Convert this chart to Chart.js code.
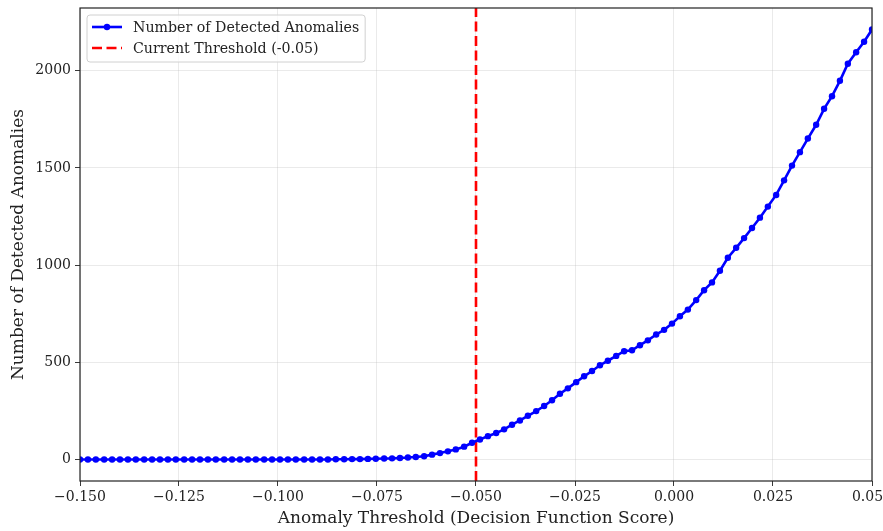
<!DOCTYPE html>
<html>
<head>
<meta charset="utf-8">
<script src="https://cdn.jsdelivr.net/npm/chart.js@4.4.1/dist/chart.umd.min.js"></script>
<style>
  html, body { margin: 0; padding: 0; background: #fff; }
  #wrap { width: 883px; height: 531px; position: relative; }
</style>
</head>
<body>
<div id="wrap"><canvas id="chart-anomalies"></canvas></div>
<script>
// threshold values (x) and detected counts (y)
const thresholds = [
  -0.1500, -0.1480, -0.1460, -0.1439, -0.1419, -0.1399, -0.1379, -0.1359, -0.1338, -0.1318,
  -0.1298, -0.1278, -0.1258, -0.1237, -0.1217, -0.1197, -0.1177, -0.1157, -0.1136, -0.1116,
  -0.1096, -0.1076, -0.1056, -0.1035, -0.1015, -0.0995, -0.0975, -0.0955, -0.0934, -0.0914,
  -0.0894, -0.0874, -0.0854, -0.0833, -0.0813, -0.0793, -0.0773, -0.0753, -0.0732, -0.0712,
  -0.0692, -0.0672, -0.0652, -0.0631, -0.0611, -0.0591, -0.0571, -0.0551, -0.0530, -0.0510,
  -0.0490, -0.0470, -0.0449, -0.0429, -0.0409, -0.0389, -0.0369, -0.0348, -0.0328, -0.0308,
  -0.0288, -0.0268, -0.0247, -0.0227, -0.0207, -0.0187, -0.0167, -0.0146, -0.0126, -0.0106,
  -0.0086, -0.0066, -0.0045, -0.0025, -0.0005, 0.0015, 0.0035, 0.0056, 0.0076, 0.0096,
  0.0116, 0.0136, 0.0157, 0.0177, 0.0197, 0.0217, 0.0237, 0.0258, 0.0278, 0.0298,
  0.0318, 0.0338, 0.0359, 0.0379, 0.0399, 0.0419, 0.0439, 0.0460, 0.0480, 0.0500
];
const detected = [
  0, 0, 0, 0, 0, 0, 0, 0, 0, 0,
  0, 0, 0, 0, 0, 0, 0, 0, 0, 0,
  0, 0, 0, 0, 0, 0, 0, 0, 0, 0,
  0, 0, 1, 1, 2, 2, 3, 4, 5, 6,
  8, 10, 13, 17, 25, 33, 42, 52, 66, 86,
  103, 120, 136, 155, 179, 201, 225, 249, 275, 305,
  338, 366, 398, 428, 455, 485, 508, 533, 557, 562,
  588, 613, 643, 667, 699, 737, 771, 820, 871, 911,
  971, 1038, 1089, 1139, 1191, 1244, 1301, 1361, 1436, 1512,
  1581, 1651, 1722, 1804, 1869, 1948, 2036, 2095, 2149, 2212
];
const currentThreshold = -0.05;

const xTicks = [-0.15, -0.125, -0.1, -0.075, -0.05, -0.025, 0, 0.025, 0.05];
const yTicks = [0, 500, 1000, 1500, 2000];
const xRange = [-0.15, 0.05];
const yRange = [-110.6, 2322.6];

const FONT = "'DejaVu Serif', 'Liberation Serif', serif";
const fmtTick = v => (v < 0 ? '\u2212' : '') + Math.abs(v).toFixed(3);

// full box round the plot (matplotlib spines)
const frameBox = {
  id: 'frameBox',
  afterDraw(chart) {
    const { ctx, chartArea: a } = chart;
    ctx.save();
    ctx.strokeStyle = '#222';
    ctx.lineWidth = 1.2;
    ctx.strokeRect(a.left, a.top, a.right - a.left, a.bottom - a.top);
    ctx.restore();
  }
};

// legend box drawn inside the plot, upper left
const innerLegend = {
  id: 'innerLegend',
  afterDraw(chart) {
    const { ctx, chartArea: a } = chart;
    const sets = chart.data.datasets;
    const x0 = a.left + 7, y0 = a.top + 7;
    const rowH = 21;
    ctx.save();
    ctx.font = `14.2px ${FONT}`;
    const w = Math.max(...sets.map(d => ctx.measureText(d.label).width)) + 52;
    const h = rowH * sets.length + 5;
    ctx.beginPath();
    ctx.roundRect(x0, y0, w, h, 3);
    ctx.fillStyle = 'rgba(255,255,255,0.8)';
    ctx.fill();
    ctx.strokeStyle = '#d0d0d0';
    ctx.lineWidth = 1;
    ctx.stroke();
    sets.forEach((d, i) => {
      const cy = y0 + 12 + i * rowH;
      ctx.strokeStyle = d.borderColor;
      ctx.lineWidth = d.borderWidth;
      ctx.setLineDash(d.borderDash || []);
      ctx.beginPath();
      ctx.moveTo(x0 + 5, cy);
      ctx.lineTo(x0 + 35, cy);
      ctx.stroke();
      ctx.setLineDash([]);
      if (d.pointRadius > 0) {
        ctx.fillStyle = d.pointBackgroundColor;
        ctx.beginPath();
        ctx.arc(x0 + 20, cy, d.pointRadius, 0, Math.PI * 2);
        ctx.fill();
      }
      ctx.fillStyle = '#222';
      ctx.textBaseline = 'middle';
      ctx.fillText(d.label, x0 + 46, cy + 1);
    });
    ctx.restore();
  }
};

new Chart(document.getElementById('chart-anomalies'), {
  type: 'line',
  plugins: [frameBox, innerLegend],
  data: {
    datasets: [{
      label: 'Number of Detected Anomalies',
      data: thresholds.map((t, i) => ({ x: t, y: detected[i] })),
      borderColor: '#0000ff',
      backgroundColor: '#0000ff',
      pointBackgroundColor: '#0000ff',
      pointBorderColor: '#0000ff',
      borderWidth: 2.6,
      pointRadius: 3.2,
      pointBorderWidth: 0,
      tension: 0,
    }, {
      label: `Current Threshold (${currentThreshold})`,
      data: [{ x: currentThreshold, y: yRange[0] }, { x: currentThreshold, y: yRange[1] }],
      borderColor: '#ff0000',
      borderWidth: 2.6,
      borderDash: [10, 4.5],
      pointRadius: 0,
    }]
  },
  options: {
    responsive: true, maintainAspectRatio: false,
    animation: false,
    layout: { padding: { top: 8, right: 11, left: 0, bottom: 0 } },
    plugins: { legend: { display: false }, tooltip: { enabled: false } },
    scales: {
      x: {
        type: 'linear',
        min: xRange[0], max: xRange[1],
        afterBuildTicks: s => { s.ticks = xTicks.map(v => ({ value: v })); },
        afterFit: s => { s.height = 50; s.paddingLeft = 0; s.paddingRight = 0; },
        grid: { color: 'rgba(176,176,176,0.3)', lineWidth: 0.9, tickColor: '#222', tickLength: 5 },
        border: { display: false },
        ticks: { color: '#222', font: { family: FONT, size: 14 }, padding: 3, maxRotation: 0, callback: fmtTick },
        title: { display: true, text: 'Anomaly Threshold (Decision Function Score)', color: '#222',
                 font: { family: FONT, size: 17 }, padding: { top: 0, bottom: 2 } },
      },
      y: {
        min: yRange[0], max: yRange[1],
        afterBuildTicks: s => { s.ticks = yTicks.map(v => ({ value: v })); },
        afterFit: s => { s.width = 80; s.paddingTop = 0; s.paddingBottom = 0; },
        grid: { color: 'rgba(176,176,176,0.3)', lineWidth: 0.9, tickColor: '#222', tickLength: 5 },
        border: { display: false },
        ticks: { color: '#222', font: { family: FONT, size: 14 }, padding: 4, callback: v => String(v) },
        title: { display: true, text: 'Number of Detected Anomalies', color: '#222',
                 font: { family: FONT, size: 17 }, padding: { top: 8, bottom: 0 } },
      }
    }
  }
});
</script>
</body>
</html>
